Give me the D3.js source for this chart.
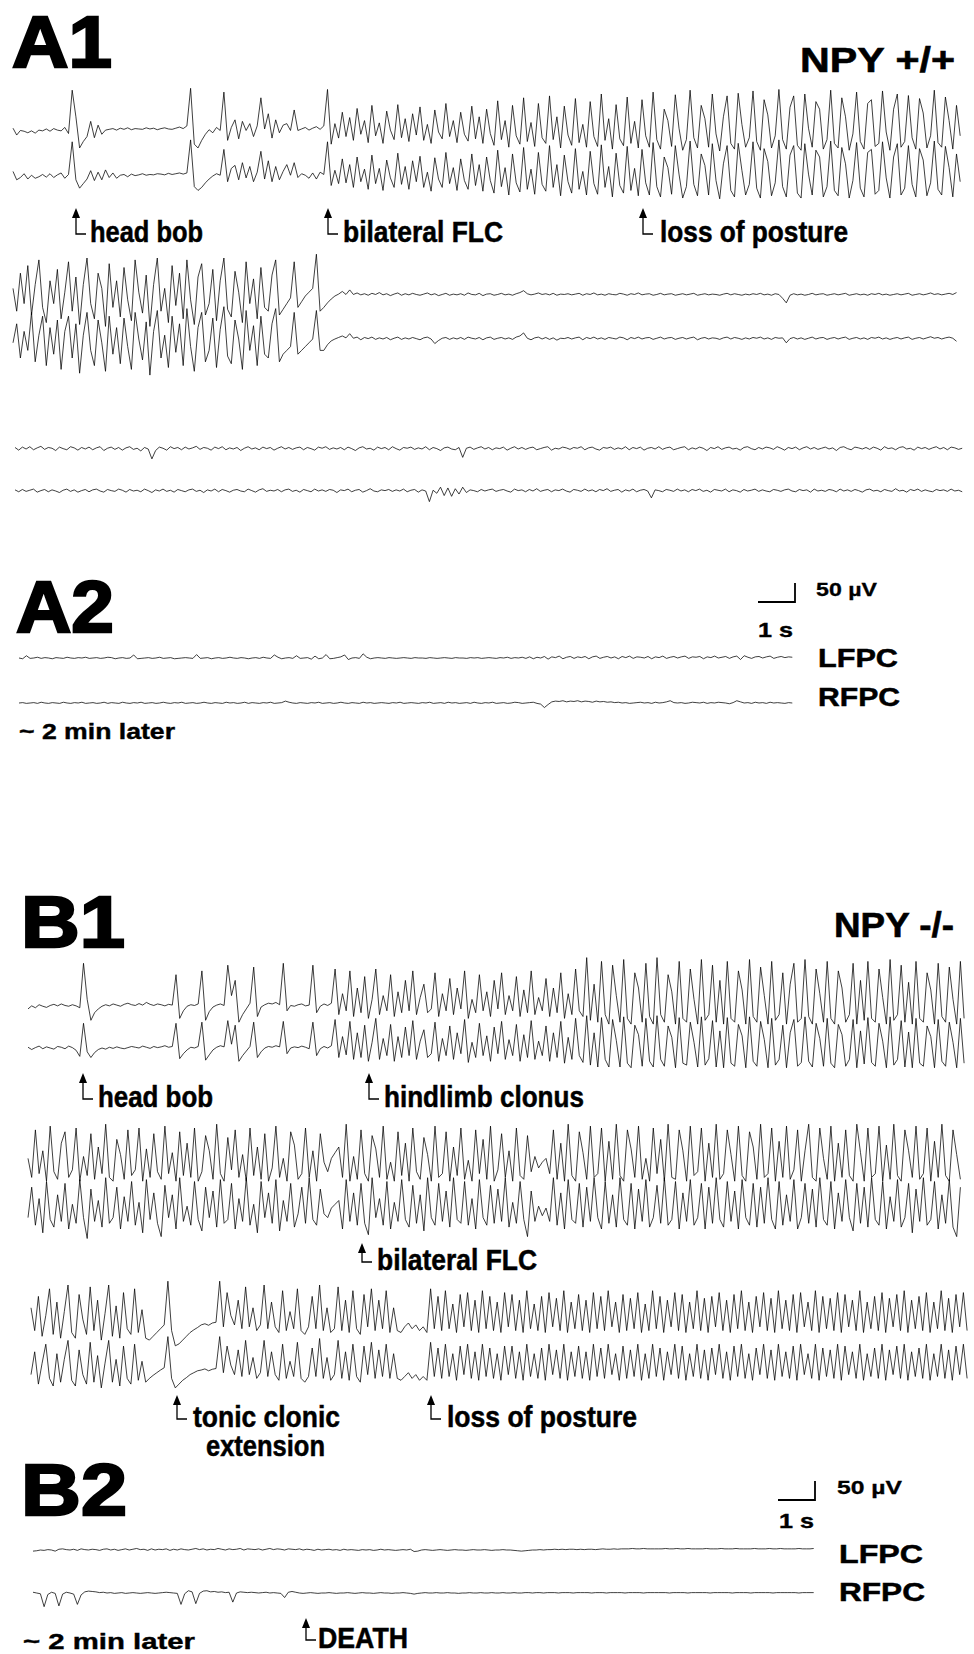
<!DOCTYPE html>
<html><head><meta charset="utf-8">
<script src="https://cdn.jsdelivr.net/npm/d3@7"></script>
<style>
body{margin:0;background:#fff}
svg text{font-family:"Liberation Sans",Arial,Helvetica,sans-serif;font-weight:bold;fill:#000}
</style>
</head><body>
<svg id="fig" width="974" height="1654"></svg>
<script>
// ---------------- DATA (µV, sampled every 0.1 s) ----------------
const a1r1L=[10,-8,4,2,-2,3,-3,5,3,8, 2,9,5,3,12,-4,110,40,-42,-25, -12,28,-15,18,-6,5,7,9,5,10, 7,11,6,9,8,7,11,8,10,6,
9,11,8,7,10,13,9,16,115,-32, -42,-22,-6,6,-2,12,4,105,-22,12, 32,-18,28,4,22,-12,16,90,8,48, -16,32,-2,18,22,4,58,4,8,12,
5,10,14,7,16,112,-32,22,-16,52, -12,38,-22,62,-6,30,-28,70,-10,24, -30,55,5,-20,72,-15,35,-25,48,-8, 66,-22,20,-30,58,0,-18,75,-12,30,
-28,52,-6,-24,68,-18,40,-30,60,-4, -35,82,-20,30,-40,70,-10,-32,90,-25, 25,-38,75,-15,-30,95,-20,40,-42,68, -8,-35,88,-28,20,-40,80,-12,-38,100,
-22,35,-45,72,-18,-36,92,-30,28,-42, 85,-10,-40,105,-20,-45,60,30,-38,98, 10,-48,-20,110,-15,-42,70,35,-40,100, -5,-50,40,95,-30,-45,102,20,-40,-15,
108,-25,-48,85,45,-42,-10,112,-20,-45, 65,95,-35,-48,100,10,-40,80,60,-45, -20,110,-30,-42,90,40,-48,-5,105,-25, -45,75,85,-38,-30,108,0,-48,60,100,
-40,-25,96,-15,-45,88,50,-42,-10,110, -28,-40,92,30,-45,70,-10];
const a1r1R=[12,-10,-4,6,-8,2,-6,-2,4,-3, 6,-4,3,8,-6,4,90,-10,-32,-20, -8,14,-12,10,-10,16,-4,8,-6,2, 4,-2,5,1,3,6,2,4,3,6,
5,3,7,4,6,8,5,8,95,-28, -38,-30,-18,-8,0,6,2,70,-15,20, 28,-10,35,-5,25,-15,10,65,-8,40, -15,25,-10,12,30,2,35,-4,6,2,
-6,8,-8,10,4,90,-25,15,-20,45, -18,30,-30,50,-15,18,-35,55,-20,20, -38,42,-5,-30,60,-22,25,-35,40,-15, 52,-30,10,-40,48,-8,-30,62,-20,22,
-38,45,-12,-35,58,-25,30,-40,50,-12, -45,68,-28,22,-50,58,-18,-42,75,-35, 18,-48,62,-22,-40,80,-30,30,-52,55, -15,-45,72,-35,12,-50,65,-20,-48,82,
-30,25,-55,60,-25,-45,78,-38,20,-52, 70,-18,-50,88,-28,-55,50,22,-48,80, 5,-58,-28,92,-22,-52,58,28,-50,85, -12,-60,32,80,-38,-55,86,15,-50,-22,
90,-32,-58,72,38,-52,-18,95,-28,-55, 55,80,-45,-58,85,5,-50,68,50,-55, -28,92,-38,-52,75,32,-58,-12,88,-32, -55,62,70,-48,-38,90,-5,-58,50,85,
-50,-32,80,-22,-55,72,42,-52,-18,92, -35,-50,78,22,-55,58,-15];
const a1r2L=[20,-40,60,-20,80,-50,30,95,-30,-70, 40,-20,70,-60,10,90,-40,50,-75,30, 100,-20,-60,60,20,-80,85,-30,40,-55, 75,-10,-65,95,10,-45,55,-80,30,100,
-40,20,-70,80,-25,60,-60,95,-10,-75, 50,85,-50,-20,70,-65,40,100,-35,-55, 65,10,-70,90,-20,45,-60,75,-30,-40, 55,95,-50,-35,-20,-5,90,
-30,-15,0,10,20,110,-40, -30,-18,-8,0,5,12,4,
16,4,8,3,6,2,7,4,9,3, 6,1,5,8,2,6,3,7,4,2, 5,8,3,6,1,4,7,2,5,3, 6,2,8,4,3,7,1,5,6,2, 4,7,3,5,2,6,9,14,6,3, 5,8,4,6,3,7,2,5,4,6,
3,5,7,2,6,4,8,3,5,2, 6,4,3,7,5,2,6,4,8,3, 5,6,2,4,7,3,5,6,2,4, 6,3,5,7,2,4,6,3,5,4, 2,5,7,3,6,4,2,5,3,6, 4,7,3,5,2,6,4,-6,-18,2,
6,3,5,2,4,7,3,5,6,2, 4,6,3,5,7,2,4,6,3,5, 2,6,4,7,3,5,2,4,6,3, 5,7,2,4,6,3,5,8,4,6, 3,5,7,4,9];
const a1r2R=[-10,40,-50,20,-30,70,-60,10,60,-70, 30,-40,50,-80,20,60,-50,40,-90,10, 70,-30,-70,50,-10,-85,60,-40,30,-65, 55,-20,-80,70,0,-55,45,-95,20,75,
-50,10,-75,60,-35,40,-70,80,-20,-85, 30,70,-60,-30,55,-75,25,85,-45,-65, 50,0,-80,75,-30,35,-70,60,-40,-50, 40,80,-60,-40,-30,-20,70,
-40,-30,-20,-10,0,75,-30, -30,-15,-5,0,4,8,3,
14,2,5,-2,4,1,5,-1,3,0, 4,-2,2,5,-1,3,0,4,1,-2, 3,5,0,-12,-4,2,4,-1,3,0, 4,-1,5,2,0,4,-2,3,5,-1, 2,4,0,3,-1,5,8,16,2,-2, 3,5,0,4,-1,3,-3,2,1,4,
0,3,5,-2,4,1,5,0,3,-1, 4,2,0,5,3,-2,4,1,5,0, 3,4,-1,2,5,0,3,4,-1,2, 4,0,3,5,-2,2,4,0,3,2, -1,3,5,0,4,2,-1,3,0,4, 2,5,0,3,-1,4,2,3,-10,1,
4,0,3,-1,2,5,0,3,4,-1, 2,4,0,3,5,-1,2,4,0,3, -1,4,2,5,0,3,-1,2,4,0, 3,5,-1,2,4,0,3,6,2,4, 0,3,5,2,-6];
const a1r3L=[4,-3,5,0,6,-2,3,7,-1,4, 2,-4,5,1,-2,6,3,-3,4,0, 5,-2,3,6,-4,2,5,-1,4,-3, 3,6,-1,2,-5,4,0,-26,-4,5, 2,-3,6,1,4,-2,5,0,3,7,
-1,4,2,-3,5,1,6,-2,3,0, 4,-4,2,6,0,3,-2,5,1,4, -3,2,6,0,4,-1,3,5,-2,4, 1,-3,5,2,6,-1,3,0,4,-2, 5,1,-4,3,6,0,2,-3,5,1,
4,-2,6,1,-3,4,2,5,-1,3, 0,6,-2,4,1,-4,3,5,0,-2, 4,-22,2,5,-1,3,6,0,4,-2, 3,1,5,-3,2,6,0,4,-1,3, 5,-2,1,4,6,-3,2,0,5,3,
-1,4,2,6,-2,3,5,0,-3,4, 2,5,-1,3,0,6,-2,4,1,5, -3,2,4,0,6,-1,3,5,-2,1, 4,6,-2,3,0,5,2,-4,4,1, 6,-1,3,5,0,2,-3,4,6,1,
-2,4,0,5,3,-1,6,2,-3,4, 1,5,-2,3,6,0,4,-1,2,5, 0,3,-4,4,6,1,-2,5,3,0, 4,-1,5,2,-3,6,1,3,-2,4, 6,0,2,-3,5,1,4,-1,3,6, 0,4,-2,5,3,-1,2];
const a1r3R=[3,-2,4,-1,2,5,-3,1,4,-2, 3,0,-4,2,5,-1,3,-3,1,4, -2,3,5,0,-3,4,1,-1,5,2, -3,4,0,2,-2,5,1,-4,3,0, 5,-1,2,-3,4,1,-2,3,5,-1,
2,-4,3,0,5,-2,4,1,-3,2, 4,0,-2,5,1,-3,3,6,-1,2, 0,4,-2,3,5,-1,2,-3,4,1, -2,5,0,3,-1,4,2,-4,3,1, 5,-2,2,4,-3,1,6,0,-2,3,
1,4,-1,3,0,5,-2,2,4,-3, 3,0,-28,2,-6,10,-12,8,-14,6, -8,10,-4,3,1,-2,4,0,3,5, -1,2,4,0,-3,5,1,3,-2,4, 0,6,-1,2,4,-2,3,1,5,0,
-3,4,2,-1,5,0,3,-2,4,1, 6,-1,2,4,-3,3,0,5,-2,2, 4,0,-18,3,1,-2,4,2,-1,5, 0,3,-2,4,1,5,-1,2,-3,4, 2,0,5,-2,3,1,-3,4,0,2,
5,-1,3,0,-2,4,2,-1,3,5, 0,-2,4,1,3,-3,5,0,2,-1, 4,2,-2,5,0,3,-1,4,1,-3, 3,5,0,2,-2,4,1,-1,6,0, 2,-3,4,1,5,-1,3,0,-2,4, 1,3,-1,5,0,2,-2];
const a2L=[0,-2,6,-1,0,2,-1,1,0,-2, 1,0,-1,2,0,-1,1,0,2,-1, 0,1,-1,0,2,1,-2,0,1,-1, 0,8,-2,-1,0,1,-1,0,2,-1, 0,1,-2,-1,0,1,0,-1,9,-1,
0,1,-2,0,1,-1,0,2,0,-1, 1,0,-2,0,1,-1,2,0,-1,8, 2,-2,0,1,-1,6,-1,0,1,-3, 5,-2,0,9,-2,-1,1,3,8,-4, 0,1,-1,11,2,-2,0,1,0,-1,
1,0,-1,0,1,0,-1,1,0,0, -1,1,0,-1,0,1,0,-1,1,0, 0,-1,1,0,1,-1,0,1,0,-1, 1,0,2,-1,1,0,2,-1,3,-2, 2,0,4,-3,3,1,5,-2,2,4,
-1,3,1,4,-2,3,5,-1,2,4, 0,3,-2,4,1,5,-1,3,2,0, 4,-2,3,1,5,-1,2,4,0,3, 5,-1,3,2,4,-2,3,1,5,0, 2,4,-1,3,5,-4,6,2,-1,3, 4,0,3,5,-1,2,4,1,3,2];
const a2R=[0,1,-1,0,1,-1,2,0,-1,1, 0,-1,2,0,-1,1,0,2,-1,0, 1,-1,0,2,-1,1,0,-1,2,0, -1,1,0,2,-1,0,1,-1,0,2, 0,-1,1,0,2,-1,0,1,-1,0,
2,0,-1,1,0,-1,2,0,1,-1, 0,2,-1,1,0,-1,1,0,2,-1, 0,1,5,2,0,-1,1,0,-1,1, 0,2,-1,0,1,-1,0,2,0,-1, 1,0,-1,2,0,1,-1,0,1,0,
-1,1,0,2,-1,0,1,0,-1,1, 0,2,-1,0,1,-1,2,0,1,-1, 0,1,-1,2,0,-1,1,0,2,-1, 0,1,-1,0,2,1,-1,0,1,2, -1,-3,-12,-4,3,5,4,6,3,5,
4,6,3,5,4,2,5,3,4,2, 3,1,2,0,1,-1,0,1,2,0, 1,-1,2,0,1,3,6,1,0,1, -1,0,2,1,0,2,-1,1,0,2, 1,0,-2,1,6,3,0,1,-1,2, 0,1,-1,2,0,1,0,-1,1,0];
const b1r1L=[-5,3,-2,6,2,-1,4,7,3,8, 4,2,6,3,-2,115,20,-35,-15,-5, 2,6,3,8,5,2,7,10,6,4, 9,5,12,7,4,8,6,3,7,5, 85,-30,-10,2,6,4,8,95,-35,-12,
0,5,8,4,110,30,70,-40,-20,-5, 10,105,-25,0,6,10,8,12,6,115, -10,4,2,6,8,3,5,110,-15,2, 8,4,10,100,-20,35,-10,95,-25,50, -15,80,-30,20,100,-20,30,-10,85,-25,
40,-15,70,-10,95,-20,25,60,-15,-5, 90,-25,35,-10,75,-20,50,-5,95,-30, 20,-15,85,-10,40,-25,70,-5,90,-20, 30,-10,80,-25,45,-15,95,-20,25,-10, 75,-25,50,-15,90,-30,35,-20,100,-10,
-25,130,-35,60,-40,120,-20,-45,110,30, -40,125,-30,-45,90,50,-40,115,-25,-45, 130,-20,-40,85,40,-45,120,-30,-40,100, 20,-45,125,-35,-20,110,-40,70,-45,120, -30,-40,95,45,-45,125,-25,-40,105,30,
-45,120,-35,-20,90,-45,60,115,-40,-30, 125,-25,-45,100,35,-40,120,-30,-45,95, 50,-40,-20,115,-45,70,-35,120,-30,-40, 100,25,-45,125,-35,-20,110,-40,65,-45, 120,-30,-40,90,45,-45,115,-25,-40,105, 20,-45,120,-30];
const b1r1R=[2,-4,1,5,-2,3,0,-3,4,2, -2,5,1,-6,-22,65,-10,-25,-12,-4, 0,-3,2,-1,3,0,-2,1,4,2, 0,5,2,-1,4,1,3,6,2,4, 65,-28,-15,-5,2,0,4,68,-32,-18,
-5,2,6,3,72,10,60,-35,-20,-8, 4,68,-25,-10,0,4,2,6,3,70, -15,0,3,1,5,2,-2,68,-20,-2, 4,0,6,75,-25,30,-18,70,-30,40, -25,60,-35,15,78,-30,25,-20,62,-35,
30,-25,55,-20,72,-30,18,48,-25,-15, 68,-35,25,-20,58,-30,40,-15,75,-38, 15,-25,65,-20,32,-35,55,-15,70,-30, 22,-20,62,-35,35,-25,72,-30,18,-20, 58,-35,40,-25,70,-40,28,-30,78,-20,
-38,85,-45,40,-50,80,-30,-50,75,20, -50,82,-40,-52,60,35,-48,78,-35,-50, 85,-30,-48,58,28,-52,80,-40,-45,68, 15,-50,82,-45,-28,72,-50,45,-52,80, -40,-48,62,32,-52,82,-35,-48,70,22,
-52,78,-45,-30,60,-52,40,75,-48,-38, 82,-35,-50,65,25,-48,78,-40,-52,62, 35,-48,-30,75,-52,45,-42,80,-38,-48, 65,18,-52,82,-45,-30,72,-50,42,-52, 78,-40,-48,58,30,-52,75,-35,-48,68, 15,-52,78,-40];
const b1r2L=[20,-30,95,-20,40,-40,105,-15,-35,60, 90,-30,-10,100,-40,25,-25,85,-35,50, -20,110,-30,-40,70,30,-35,95,-25,-10, 100,-40,45,-30,85,-15,-35,105,-20,35, -40,90,-25,60,-30,100,-40,-15,80,40,
-35,110,-20,-40,75,-10,95,-30,30,-40, 100,-25,50,-35,85,-40,-5,105,-30,20, -40,90,55,-35,-20,100,-30,40,-40,85, 10,-15,20,35,50,-30,110,-40,25,-35, 95,-20,-40,80,45,-30,105,-35,10,-40,
90,-25,60,-40,100,-15,-35,75,30,-40, 105,-30,-20,90,-40,50,-25,100,-35,15, -40,95,-20,70,-35,105,-40,-10,85,-30, 40,-40,100,-25,-35,80,-15,25,-5,10, 20,-20,95,-35,60,-40,110,-25,-40,90,
35,-35,105,-30,-20,100,-40,65,-35,110, -25,-40,95,45,-30,105,-35,20,-40,100, -20,70,-40,110,-30,-35,95,40,-40,105, -25,-15,100,-40,60,-30,110,-35,-20,95, 30,-40,105,-25,-40,90,50,-35,110,-30,
-20,100,-40,65,-30,105,-35,-10,95,-40, 40,110,-30,-40,100,20,-35,105,-40,60, -30,95,-25,-40,110,35,-40,100,-30,-20, 105,-40,55,-35,110,-25,-40,95,40,-30, 105,-35,-20,100,-40,65,-30,110,-25,-40, 95,30,-35];
const b1r2R=[-20,60,-40,30,-60,75,-25,-45,40,-30, 70,-50,15,-35,80,-20,-75,55,-30,25, -45,85,-35,-20,60,-50,35,-30,75,-40, 20,-60,80,-25,45,-35,-70,65,-20,40, -50,85,-30,10,-40,75,-25,-55,60,-20,
50,-45,80,-35,-25,70,-50,30,-30,85, -40,15,-60,75,-20,45,-35,80,-55,25, -30,70,-45,-10,60,-35,85,-25,-40,55, -10,-20,5,15,25,-50,80,-30,45,-40, 70,-35,-65,85,-20,30,-40,75,-50,20,
-30,80,-25,-45,65,-35,40,-55,85,-20, -40,70,-30,50,-45,85,-25,-35,75,-40, 30,-50,80,-20,-40,65,-35,55,-30,85, -45,20,-35,75,-25,-70,50,-30,10,-15, 5,-30,85,-40,45,-50,80,-25,-35,70,
-45,60,-30,85,-20,-50,75,-35,40,-45, 85,-25,-40,70,-50,55,-30,80,-45,-20, 65,-35,85,-40,-25,75,-50,45,-30,80, -40,-20,70,-50,60,-35,85,-25,-45,75, -30,50,-50,80,-20,-40,70,-45,60,-35,
85,-25,-50,75,-40,40,-30,80,-50,-20, 70,-35,55,-45,85,-25,-40,75,-50,45, -30,80,-20,-55,70,-35,60,-45,85,-25, -40,75,-50,35,-30,80,-45,-20,70,-60, 55,-30,85,-40,-25,75,-50,40,-35,80, -45,-70,60];
const b1r3L=[40,-20,70,-35,20,90,-30,55,-40,30, 100,-25,-40,75,10,-30,95,-20,60,-45, 25,100,-35,45,-40,80,-15,-30,90,-25, 35,-40,-45,-35,-25,-15,-5,110,-20,-60, -55,-45,-35,-25,-18,-12,-5,-2,-6,0,
2,110,-10,80,20,-5,60,-15,95,-10, 40,-20,-5,100,-15,55,-10,-25,85,-20, 30,-15,90,-20,-30,-10,70,-15,100,-20, 40,-25,-15,95,-20,60,-25,85,-15,-30, 75,-10,90,-20,60,-15,85,-25,40,-20,
-25,-10,0,-15,-5,-20,-10,-25,90,-15, 70,-20,85,-15,50,-25,75,-10,80,-20, 60,-25,85,-15,70,-20,55,-25,80,-10, 75,-20,60,-25,85,-15,50,-20,70,-25, 80,-10,65,-20,85,-25,55,-15,75,-20,
60,-25,80,-15,70,-20,85,-10,55,-25, 75,-20,65,-15,80,-25,50,-20,85,-15, 70,-25,60,-10,80,-20,75,-25,55,-15, 85,-20,65,-25,70,-10,80,-20,60,-25, 75,-15,85,-20,55,-25,70,-10,80,-20,
65,-25,85,-15,60,-20,75,-25,80,-10, 55,-20,85,-25,70,-15,65,-20,80,-25, 75,-10,60,-20,85,-25,55,-15,70,-20, 80,-25,65,-10,75,-20,85,-25,60,-15, 70,-20,80,-25,55,-15,85,-20,65,-25, 75,-10,80,-20];
const b1r3R=[-20,40,-45,10,60,-30,-50,35,-40,20, 70,-35,-50,45,-20,-45,65,-40,30,-55, 10,70,-40,20,-50,55,-30,-45,60,-35, 15,-40,-30,-22,-15,-8,-2,80,-30,-55, -45,-35,-28,-20,-15,-10,-8,-5,-10,-6,
-4,80,-15,55,5,-20,45,-25,70,-20, 25,-30,-15,70,-25,40,-20,-35,60,-30, 15,-25,65,-30,-40,-25,50,-25,75,-30, 25,-35,-20,70,-30,40,-35,60,-25,-40, 55,-20,65,-30,45,-25,60,-30,35,-30,
-35,-25,-15,-30,-20,-35,-25,-35,65,-25, 50,-30,60,-25,35,-35,55,-20,60,-30, 40,-35,60,-25,50,-30,35,-35,55,-20, 55,-30,40,-35,60,-25,35,-30,50,-35, 60,-20,45,-30,60,-35,40,-25,55,-30,
40,-35,60,-25,50,-30,60,-20,35,-35, 55,-30,45,-25,60,-35,35,-30,60,-25, 50,-35,40,-20,60,-30,55,-35,35,-25, 60,-30,45,-35,50,-20,60,-30,40,-35, 55,-25,60,-30,35,-35,50,-20,60,-30,
45,-35,60,-25,40,-30,55,-35,60,-20, 35,-30,60,-35,50,-25,45,-30,60,-35, 55,-20,40,-30,60,-35,35,-25,50,-30, 60,-35,45,-20,55,-30,60,-35,40,-25, 50,-30,60,-35,35,-25,60,-30,45,-35, 55,-20,60,-30];
const b2L=[-3,-2,0,-1,1,0,-3,2,3,1, 0,2,-1,3,1,0,2,1,-1,2, 3,0,2,-1,1,3,0,2,4,1, 2,-1,3,0,2,1,3,-1,2,0, 3,1,0,2,4,1,3,0,2,1,
4,2,0,3,1,2,4,0,3,2, 1,3,0,2,4,1,3,2,0,3, 2,1,3,0,2,1,-1,2,0,1, 2,0,1,-1,2,0,1,0,-1,1, 0,1,-1,0,2,0,1,0,-1,0,
1,0,2,-4,-3,0,1,0,-1,0, 1,0,-1,0,1,0,0,-1,0,1, 0,0,1,0,-1,0,0,1,0,0, -1,-2,-3,-2,-1,0,0,1,0,1, 1,2,1,2,1,2,2,1,2,1,
2,2,1,2,3,2,2,3,2,3, 3,3,4,3,3,4,3,3,3,3, 3,4,3,3,4,3,3,4,3,3, 3,3,4,3,3,3,4,3,3,3, 4,3,3,3,3,4,3,3,3,4, 3,3,4,3,3,3,3,4,3,3, 3,4];
const b2R=[2,0,-2,-36,-4,2,-1,-34,-3,2, 0,-3,-30,-5,3,5,4,3,1,2, 0,1,-1,0,1,-1,0,1,0,-1, 0,1,0,-1,0,1,2,1,0,-1, -30,-2,6,3,-28,-1,5,6,3,4,
2,3,1,2,-24,0,3,2,1,2, 1,0,1,2,0,1,0,-1,-12,2, 4,2,0,-1,0,1,0,-1,0,0, 1,0,-1,0,0,1,0,-1,0,1, 0,0,-1,0,1,0,0,-1,0,0,
1,0,-1,-3,-1,0,1,0,0,1, 0,0,1,0,0,-1,0,0,1,0, 0,1,0,0,1,0,0,1,0,0, 1,0,0,1,1,0,1,1,0,1, 1,1,0,1,1,1,0,1,1,1,
1,0,1,1,1,0,1,1,1,1, 0,1,1,1,1,0,1,1,1,1, 1,1,0,1,1,1,1,0,1,1, 1,1,1,0,1,1,1,1,1,0, 1,1,1,1,0,1,1,1,1,1, 0,1,1,1,1,1,1,0,1,1, 1,1];

const panelLabels=["A1","A2","B1","B2"];
const genotypeLabels=["NPY +/+","NPY -/-"];
const channelLabels=["LFPC","RFPC"];
const scaleLabels=["50 µV","1 s"];
const laterLabel="~ 2 min later";
const eventLabels=["head bob","bilateral FLC","loss of posture","head bob","hindlimb clonus","bilateral FLC","tonic clonic","loss of posture","DEATH"];
const extraLabel="extension";

// ---------------- LAYOUT ----------------
const SEC_PX=37, UV50_PX=19, DT=0.1;
const svg=d3.select("#fig");
const amp=d3.scaleLinear().domain([0,50]).range([0,-UV50_PX]);
const tScale=d3.scaleLinear().domain([0,1]).range([0,SEC_PX]);

function trace(vals,x0,base){
  const line=d3.line().x((d,i)=>x0+tScale(i*DT)).y(d=>base+amp(d));
  svg.append("path").attr("d",line(vals)).attr("fill","none")
    .attr("stroke","#000").attr("stroke-width",0.75).attr("stroke-linejoin","miter");
}
const traces=[
  [a1r1L,13,132],[a1r1R,13,176],
  [a1r2L,13,296],[a1r2R,13,339],
  [a1r3L,15,449],[a1r3R,15,491],
  [a2L,19,658],[a2R,19,703],
  [b1r1L,28,1007],[b1r1R,28,1048],
  [b1r2L,28,1166],[b1r2R,28,1210],
  [b1r3L,31,1323],[b1r3R,31,1367],
  [b2L,33,1550],[b2R,33,1593]
];
traces.forEach(t=>trace(t[0],t[1],t[2]));

function txt(s,x,y,size,len,sw){
  const t=svg.append("text").attr("x",x).attr("y",y).attr("font-size",size).text(s);
  if(len) t.attr("textLength",len).attr("lengthAdjust","spacingAndGlyphs");
  if(sw) t.attr("stroke","#000").attr("stroke-width",sw);
  return t;
}
// panel labels (cap height ~53 px)
[[0,12,67,100],[1,16,632,98],[2,21,947,104],[3,21,1515,106]].forEach(p=>
  txt(panelLabels[p[0]],p[1],p[2],72,p[3],2.4));
txt(genotypeLabels[0],800,72,35,155,0.6);
txt(genotypeLabels[1],834,937,35,120,0.6);

// event arrows
function arrow(label,ax,tipY,base,tx,len){
  const cy=base-8;
  svg.append("path").attr("d",`M${ax},${tipY} L${ax-4},${tipY+10} L${ax+4},${tipY+10} Z`).attr("fill","#000");
  svg.append("path").attr("d",`M${ax},${tipY+9} V${cy} H${ax+10}`).attr("fill","none").attr("stroke","#000").attr("stroke-width",1.3);
  txt(label,tx,base,29,len,0.5);
}
arrow(eventLabels[0],76,208,242,90,113);
arrow(eventLabels[1],328,208,242,343,160);
arrow(eventLabels[2],643,208,242,660,188);
arrow(eventLabels[3],83,1073,1107,98,115);
arrow(eventLabels[4],369,1073,1107,384,200);
arrow(eventLabels[5],362,1243,1270,377,160);
arrow(eventLabels[6],177,1395,1427,193,147);
txt(extraLabel,206,1456,29,119,0.5);
arrow(eventLabels[7],431,1395,1427,447,190);
arrow(eventLabels[8],306,1618,1648,318,90);

// scale bars and channel labels
function scaleBar(bx,by){
  svg.append("path").attr("d",`M${bx-tScale(1)},${by} H${bx} V${by+amp(50)}`)
    .attr("fill","none").attr("stroke","#000").attr("stroke-width",1.8);
}
scaleBar(795,602);
txt(scaleLabels[0],816,596,19,61,0.3);
txt(scaleLabels[1],758,637,21,35,0.4);
txt(channelLabels[0],818,667,26,80,0.5);
txt(channelLabels[1],818,706,26,82,0.5);
txt(laterLabel,19,739,22,156,0.4);

scaleBar(815,1500);
txt(scaleLabels[0],837,1494,19,65,0.3);
txt(scaleLabels[1],779,1528,21,35,0.4);
txt(channelLabels[0],839,1563,26,84,0.5);
txt(channelLabels[1],839,1601,26,86,0.5);
txt(laterLabel,23,1649,22,172,0.4);
</script>
</body></html>
